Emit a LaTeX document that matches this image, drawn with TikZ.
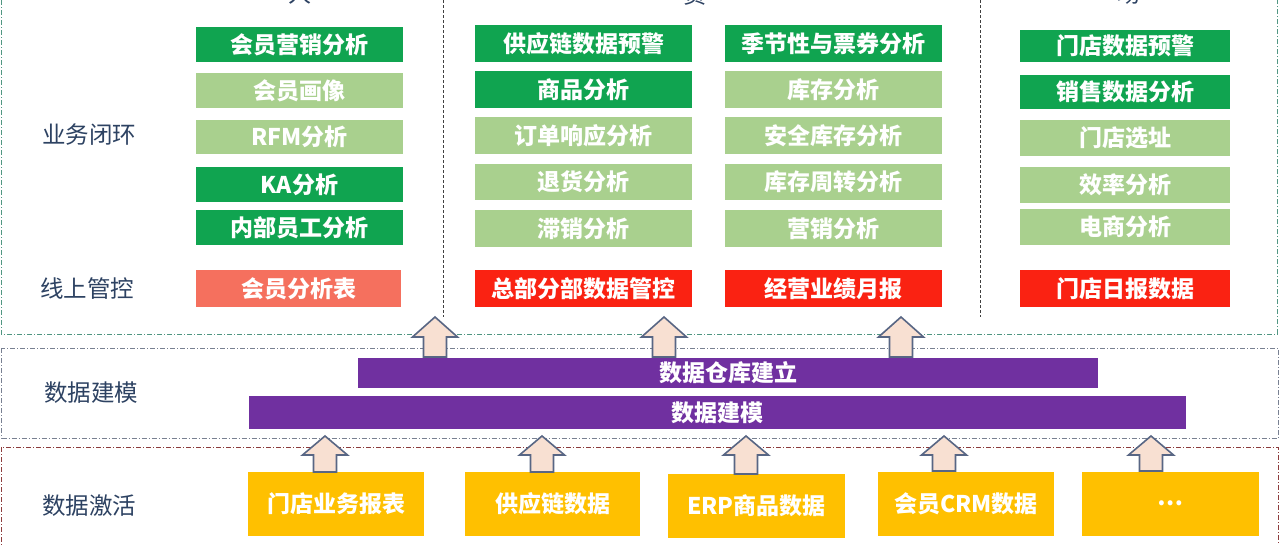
\documentclass[tikz,border=0pt]{standalone}
\usepackage{fontspec}
\setmainfont{Noto Sans CJK SC}
\definecolor{dkgreen}{RGB}{16,164,80}
\definecolor{ltgreen}{RGB}{169,208,142}
\definecolor{redc}{RGB}{250,34,18}
\definecolor{salmon}{RGB}{245,112,94}
\definecolor{purplec}{RGB}{112,48,160}
\definecolor{yellowc}{RGB}{255,192,0}
\definecolor{labelc}{RGB}{45,66,98}
\definecolor{arrfill}{RGB}{248,224,210}
\definecolor{arrdraw}{RGB}{88,102,132}
\definecolor{topborder}{RGB}{80,150,130}
\definecolor{midborder}{RGB}{120,128,145}
\definecolor{botborder}{RGB}{140,60,60}
\newcommand\blkarrow[4]{\draw[arr] (#1-11.5,#2) -- (#1-11.5,#3) -- (#1-22.5,#3) -- (#1,#4) -- (#1+22.5,#3) -- (#1+11.5,#3) -- (#1+11.5,#2) -- cycle;}
\begin{document}
\begin{tikzpicture}[x=1pt,y=-1pt,
  box/.style={draw=none, inner sep=0pt, text=white, font=\fontsize{23}{25}\selectfont\bfseries, anchor=center},
  dg/.style={box, fill=dkgreen},
  lg/.style={box, fill=ltgreen},
  rd/.style={box, fill=redc},
  sal/.style={box, fill=salmon},
  bar/.style={box, fill=purplec},
  yel/.style={box, fill=yellowc, minimum width=176pt, minimum height=64pt},
  lab/.style={inner sep=0pt, text=labelc, font=\fontsize{23.5}{25}\selectfont},
  ttl/.style={inner sep=0pt, text=labelc, font=\fontsize{23}{24}\selectfont, anchor=base},
  region/.style={line width=0.8pt, dash pattern=on 5pt off 2pt on 1pt off 2pt},
  divider/.style={line width=0.8pt, draw=black!75, dash pattern=on 3pt off 2pt},
  arr/.style={fill=arrfill, draw=arrdraw, line width=1.6pt, line join=miter},
  lw/.style={minimum width=207pt}, aw/.style={minimum width=217pt}, rw/.style={minimum width=210pt}
]
\useasboundingbox (0,0) rectangle (1280,544);
\fill[white] (0,0) rectangle (1280,544);

% regions
\draw[region, draw=topborder] (1,-20) rectangle (1277,334);
\draw[region, draw=midborder] (1.5,348) rectangle (1278,438);
\draw[region, draw=botborder] (1.5,447) rectangle (1278,570);
\draw[divider] (443,-5) -- (443,317);
\draw[divider] (980,-5) -- (980,317);

% cropped titles (cut by the top edge, as in the reference)
\node[ttl] (t1) at (300,2.5) {人};
\node[ttl] (t2) at (695,3.5) {货};
\node[ttl] (t3) at (1129,2.5) {场};

% row labels
\node[lab] (r1) at (89,135) {业务闭环};
\node[lab] (r2) at (87,289) {线上管控};
\node[lab] (r3) at (91,393) {数据建模};
\node[lab] (r4) at (89,506) {数据激活};

% left column
\node[dg, lw, minimum height=35pt] (l1) at (299.5,44.5) {会员营销分析};
\node[lg, lw, minimum height=35pt] (l2) at (299.5,90.5) {会员画像};
\node[lg, lw, minimum height=34pt] (l3) at (299.5,137) {RFM分析};
\node[dg, lw, minimum height=35pt] (l4) at (299.5,184.5) {KA分析};
\node[dg, lw, minimum height=35pt] (l5) at (299.5,227.5) {内部员工分析};
\node[sal, minimum width=205pt, minimum height=37pt] (l6) at (298.5,288.5) {会员分析表};

% middle column A
\node[dg, aw, minimum height=37pt] (a1) at (583.5,43.5) {供应链数据预警};
\node[dg, aw, minimum height=37pt] (a2) at (583.5,89.5) {商品分析};
\node[lg, aw, minimum height=37pt] (a3) at (583.5,135.5) {订单响应分析};
\node[lg, aw, minimum height=36pt] (a4) at (583.5,182) {退货分析};
\node[lg, aw, minimum height=37pt] (a5) at (583.5,228.5) {滞销分析};
\node[rd, aw, minimum height=37pt] (a6) at (583.5,288.5) {总部分部数据管控};

% middle column B
\node[dg, aw, minimum height=37pt] (b1) at (833.5,43.5) {季节性与票券分析};
\node[lg, aw, minimum height=37pt] (b2) at (833.5,89.5) {库存分析};
\node[lg, aw, minimum height=37pt] (b3) at (833.5,135.5) {安全库存分析};
\node[lg, aw, minimum height=36pt] (b4) at (833.5,182) {库存周转分析};
\node[lg, aw, minimum height=37pt] (b5) at (833.5,228.5) {营销分析};
\node[rd, aw, minimum height=37pt] (b6) at (833.5,288.5) {经营业绩月报};

% right column
\node[dg, rw, minimum height=32pt] (c1) at (1125,46) {门店数据预警};
\node[dg, rw, minimum height=34pt] (c2) at (1125,92) {销售数据分析};
\node[lg, rw, minimum height=36pt] (c3) at (1125,138) {门店选址};
\node[lg, rw, minimum height=36pt] (c4) at (1125,185) {效率分析};
\node[lg, rw, minimum height=36pt] (c5) at (1125,227) {电商分析};
\node[rd, rw, minimum height=37pt] (c6) at (1125,288.5) {门店日报数据};

% purple bars
\node[bar, minimum width=740pt, minimum height=30pt] (dw) at (728,372.5) {数据仓库建立};
\node[bar, minimum width=937pt, minimum height=33pt] (dm) at (717.5,412.5) {数据建模};

% yellow sources
\node[yel] (y1) at (336,504) {门店业务报表};
\node[yel, minimum width=175pt] (y2) at (552.5,504) {供应链数据};
\node[yel, minimum width=177pt] (y3) at (756.5,506) {ERP商品数据};
\node[yel] (y4) at (966,503.5) {会员CRM数据};
\node[yel, minimum width=177pt] (y5) at (1170.5,503.5) {…};

% arrows
\blkarrow{435}{357}{337}{317}
\blkarrow{664}{357}{337}{317}
\blkarrow{901}{357}{337}{317}
\blkarrow{325}{472}{455}{436}
\blkarrow{542}{472}{455}{436}
\blkarrow{746}{474}{455}{436}
\blkarrow{944}{471}{455}{436}
\blkarrow{1151}{471}{455}{436}
\end{tikzpicture}
\end{document}
